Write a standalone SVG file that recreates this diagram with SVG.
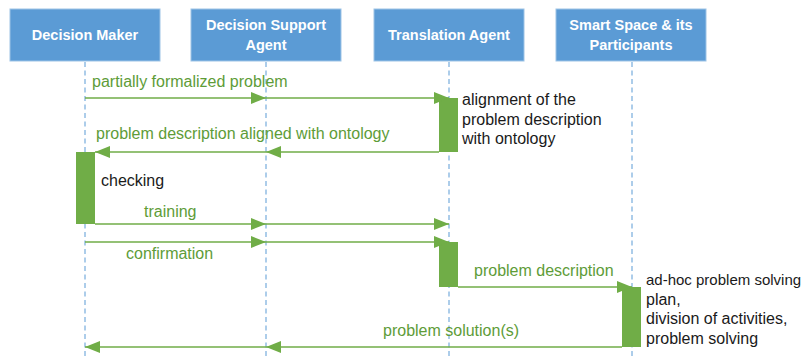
<svg xmlns="http://www.w3.org/2000/svg" width="806" height="356" viewBox="0 0 806 356">
<style>
.box{fill:#5B9BD5;stroke:#9DC3E6;stroke-width:1}
.hdr{font-family:"Liberation Sans",Arial,sans-serif;font-weight:bold;font-size:14.5px;fill:#FFFFFF;text-anchor:middle}
.life{stroke:#5B9BD5;stroke-width:1;stroke-dasharray:5 3.5;fill:none}
.act{fill:#70AD47}
.msg{stroke:#70AD47;stroke-width:1.5;fill:none;marker-end:url(#ah)}
.lbl{font-family:"Liberation Sans",Arial,sans-serif;font-size:16px;fill:#5E9C38}
.note{font-family:"Liberation Sans",Arial,sans-serif;font-size:16px;fill:#1A1A1A}
</style>
<defs>
<marker id="ah" viewBox="0 0 15 12" refX="15" refY="6" markerWidth="15" markerHeight="12" markerUnits="userSpaceOnUse" orient="auto">
<path d="M0,0 L15,6 L0,12 z" fill="#70AD47"/>
</marker>
</defs>
<rect width="806" height="356" fill="#FFFFFF"/>

<g id="lifelines">
<line class="life" x1="85" y1="62" x2="85" y2="356"/>
<line class="life" x1="266" y1="62" x2="266" y2="356"/>
<line class="life" x1="449" y1="62" x2="449" y2="356"/>
<line class="life" x1="632" y1="62" x2="632" y2="356"/>
</g>

<g id="decision-maker">
<rect class="box" x="10" y="9" width="150" height="52"/>
<text class="hdr" x="85" y="40">Decision Maker</text>
<rect class="act" x="76" y="152" width="19" height="72"/>
<text class="note" x="101" y="186">checking</text>
</g>

<g id="decision-support-agent">
<rect class="box" x="191" y="9" width="150" height="52"/>
<text class="hdr" x="266" y="30">Decision Support</text>
<text class="hdr" x="266" y="50">Agent</text>
</g>

<g id="translation-agent">
<rect class="box" x="374" y="9" width="150" height="52"/>
<text class="hdr" x="449" y="40">Translation Agent</text>
<rect class="act" x="439" y="98" width="19" height="54"/>
<rect class="act" x="439" y="242" width="19" height="45"/>
<text class="note" x="462" y="105">alignment of the</text>
<text class="note" x="462" y="125">problem description</text>
<text class="note" x="462" y="144">with ontology</text>
</g>

<g id="smart-space">
<rect class="box" x="556" y="9" width="150" height="52"/>
<text class="hdr" x="631" y="30">Smart Space &amp; its</text>
<text class="hdr" x="631" y="50">Participants</text>
<rect class="act" x="622" y="287" width="19" height="60"/>
<text class="note" x="646" y="285" style="font-size:15px">ad-hoc problem solving</text>
<text class="note" x="646" y="304.5">plan,</text>
<text class="note" x="646" y="324">division of activities,</text>
<text class="note" x="646" y="343.5">problem solving</text>
</g>

<g id="connectors">
<line class="msg" x1="85" y1="98" x2="266" y2="98"/>
<line class="msg" x1="266" y1="98" x2="449" y2="98"/>
<text class="lbl" x="92" y="87">partially formalized problem</text>

<line class="msg" x1="439" y1="152" x2="266" y2="152"/>
<line class="msg" x1="266" y1="152" x2="95" y2="152"/>
<text class="lbl" x="96" y="139">problem description aligned with ontology</text>

<line class="msg" x1="95" y1="224" x2="266" y2="224"/>
<line class="msg" x1="266" y1="224" x2="449" y2="224"/>
<text class="lbl" x="144" y="217">training</text>

<line class="msg" x1="85" y1="242" x2="266" y2="242"/>
<line class="msg" x1="266" y1="242" x2="449" y2="242"/>
<text class="lbl" x="126" y="259">confirmation</text>

<line class="msg" x1="458" y1="287" x2="632" y2="287"/>
<text class="lbl" x="474" y="276">problem description</text>

<line class="msg" x1="622" y1="347" x2="266" y2="347"/>
<line class="msg" x1="266" y1="347" x2="85" y2="347"/>
<text class="lbl" x="383" y="336">problem solution(s)</text>
</g>
</svg>
